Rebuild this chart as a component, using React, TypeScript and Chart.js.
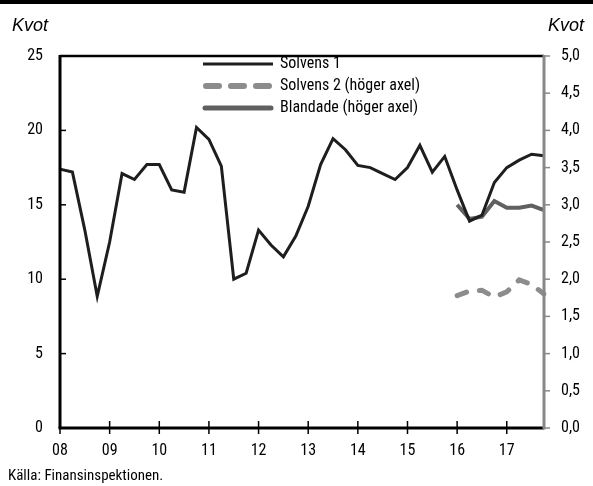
import React, { useEffect, useRef } from "react";
import { Chart, registerables } from "chart.js";

Chart.register(...registerables);

const quarters = [
  "2008K1", "2008K2", "2008K3", "2008K4", "2009K1", "2009K2", "2009K3", "2009K4",
  "2010K1", "2010K2", "2010K3", "2010K4", "2011K1", "2011K2", "2011K3", "2011K4",
  "2012K1", "2012K2", "2012K3", "2012K4", "2013K1", "2013K2", "2013K3", "2013K4",
  "2014K1", "2014K2", "2014K3", "2014K4", "2015K1", "2015K2", "2015K3", "2015K4",
  "2016K1", "2016K2", "2016K3", "2016K4", "2017K1", "2017K2", "2017K3", "2017K4",
];

const yearLabels = ["08", "09", "10", "11", "12", "13", "14", "15", "16", "17"];

const solvens1 = [
  17.4, 17.2, 13.3, 8.85, 12.5, 17.1, 16.7, 17.7,
  17.7, 16.0, 15.85, 20.2, 19.4, 17.6, 10.0, 10.4,
  13.3, 12.3, 11.5, 12.9, 14.9, 17.7, 19.45, 18.7,
  17.65, 17.5, 17.1, 16.7, 17.5, 19.0, 17.2, 18.25,
  16.0, 13.9, 14.3, 16.5, 17.5, 18.0, 18.4, 18.3,
];

const solvens2 = [
  null, null, null, null, null, null, null, null,
  null, null, null, null, null, null, null, null,
  null, null, null, null, null, null, null, null,
  null, null, null, null, null, null, null, null,
  1.78, 1.84, 1.85, 1.76, 1.83, 1.99, 1.93, 1.8,
];

const blandade = [
  null, null, null, null, null, null, null, null,
  null, null, null, null, null, null, null, null,
  null, null, null, null, null, null, null, null,
  null, null, null, null, null, null, null, null,
  3.0, 2.81, 2.84, 3.05, 2.96, 2.96, 2.99, 2.93,
];

const leftTicks = [0, 5, 10, 15, 20, 25];
const rightTicks = [0, 0.5, 1, 1.5, 2, 2.5, 3, 3.5, 4, 4.5, 5];

const NARROW = '"Roboto Condensed", "DejaVu Sans Condensed", sans-serif';
const COL_S1 = "#1e1e1e";
const COL_S2 = "#8c8c8c";
const COL_BL = "#606060";
const COL_RAXIS = "#888888";

const decor = {
  id: "decor",
  afterDraw(chart: any) {
    const { ctx, chartArea: a, scales } = chart;
    const y = scales.y;
    const y1 = scales.y1;
    const x = scales.x;
    ctx.save();

    // top black bar
    ctx.fillStyle = "#000";
    ctx.fillRect(0, 0, 593, 4);

    // legend
    ctx.lineCap = "butt";
    ctx.strokeStyle = COL_S1;
    ctx.lineWidth = 3;
    ctx.beginPath();
    ctx.moveTo(203, 64);
    ctx.lineTo(273, 64);
    ctx.stroke();

    ctx.strokeStyle = COL_S2;
    ctx.lineWidth = 6;
    ctx.lineCap = "round";
    ctx.setLineDash([13, 12]);
    ctx.beginPath();
    ctx.moveTo(206, 86);
    ctx.lineTo(270, 86);
    ctx.stroke();
    ctx.setLineDash([]);

    ctx.strokeStyle = COL_BL;
    ctx.lineWidth = 5;
    ctx.lineCap = "round";
    ctx.beginPath();
    ctx.moveTo(205, 108);
    ctx.lineTo(271, 108);
    ctx.stroke();
    ctx.lineCap = "butt";

    ctx.fillStyle = "#000";
    ctx.font = "16px " + NARROW;
    ctx.textAlign = "left";
    ctx.textBaseline = "middle";
    ctx.fillText("Solvens 1", 280, 64);
    ctx.fillText("Solvens 2 (höger axel)", 280, 86);
    ctx.fillText("Blandade (höger axel)", 280, 108);

    // frame lines
    ctx.strokeStyle = "#000";
    ctx.lineWidth = 2.5;
    ctx.beginPath();
    ctx.moveTo(a.left, a.top);
    ctx.lineTo(a.right, a.top);
    ctx.stroke();

    ctx.lineWidth = 3;
    ctx.beginPath();
    ctx.moveTo(a.left, a.top - 1);
    ctx.lineTo(a.left, a.bottom);
    ctx.stroke();

    ctx.beginPath();
    ctx.moveTo(a.left - 1.5, a.bottom);
    ctx.lineTo(a.right, a.bottom);
    ctx.stroke();

    ctx.strokeStyle = COL_RAXIS;
    ctx.beginPath();
    ctx.moveTo(a.right, a.top - 1);
    ctx.lineTo(a.right, a.bottom + 1.5);
    ctx.stroke();

    // ticks
    ctx.lineWidth = 1.5;
    ctx.strokeStyle = "#000";
    leftTicks.forEach((v) => {
      const py = y.getPixelForValue(v);
      ctx.beginPath();
      ctx.moveTo(a.left, py);
      ctx.lineTo(a.left + 6, py);
      ctx.stroke();
    });
    quarters.forEach((q, i) => {
      if (i % 4 !== 0) return;
      const px = x.getPixelForValue(i);
      ctx.beginPath();
      ctx.moveTo(px, a.bottom - 7);
      ctx.lineTo(px, a.bottom + 6);
      ctx.stroke();
    });
    ctx.strokeStyle = COL_RAXIS;
    rightTicks.forEach((v) => {
      const py = y1.getPixelForValue(v);
      ctx.beginPath();
      ctx.moveTo(a.right, py);
      ctx.lineTo(a.right + 6, py);
      ctx.stroke();
    });

    // axis unit labels
    ctx.fillStyle = "#000";
    ctx.font = 'italic 18px "Liberation Sans", "DejaVu Sans", sans-serif';
    ctx.textBaseline = "alphabetic";
    ctx.textAlign = "left";
    ctx.fillText("Kvot", 12, 31);
    ctx.textAlign = "right";
    ctx.fillText("Kvot", 584, 31);

    // source
    ctx.font = "15px " + NARROW;
    ctx.textAlign = "left";
    ctx.fillText("Källa: Finansinspektionen.", 8, 480);

    ctx.restore();
  },
};

export default function App() {
  const ref = useRef<HTMLCanvasElement | null>(null);

  useEffect(() => {
    if (!ref.current) return;
    const tickFont = { family: NARROW, size: 16 };
    const chart = new Chart(ref.current, {
      type: "line",
      data: {
        labels: quarters,
        datasets: [
          {
            label: "Solvens 1",
            data: solvens1,
            yAxisID: "y",
            borderColor: COL_S1,
            borderWidth: 3,
            pointRadius: 0,
            tension: 0,
            fill: false,
          },
          {
            label: "Solvens 2 (höger axel)",
            data: solvens2 as any,
            yAxisID: "y1",
            borderColor: COL_S2,
            borderWidth: 5,
            borderDash: [10, 13],
            borderCapStyle: "round",
            pointRadius: 0,
            tension: 0,
            fill: false,
          },
          {
            label: "Blandade (höger axel)",
            data: blandade as any,
            yAxisID: "y1",
            borderColor: COL_BL,
            borderWidth: 4,
            pointRadius: 0,
            tension: 0,
            fill: false,
          },
        ],
      },
      options: {
        responsive: false,
        animation: false,
        devicePixelRatio: 1,
        layout: { padding: { top: 56, left: 0, right: 0, bottom: 0 } },
        plugins: {
          legend: { display: false },
          tooltip: { enabled: false },
          title: { display: false },
        },
        scales: {
          x: {
            type: "category",
            grid: { display: false, drawTicks: false },
            border: { display: false },
            ticks: {
              autoSkip: false,
              maxRotation: 0,
              minRotation: 0,
              padding: 13,
              color: "#000",
              font: tickFont,
              callback: (_v: any, i: number) => (i % 4 === 0 ? yearLabels[i / 4] : ""),
            },
            afterFit: (s: any) => {
              s.height = 58;
            },
          },
          y: {
            position: "left",
            min: 0,
            max: 25,
            grid: { display: false, drawTicks: false },
            border: { display: false },
            ticks: { stepSize: 5, padding: 17, color: "#000", font: tickFont },
            afterFit: (s: any) => {
              s.width = 60;
            },
          },
          y1: {
            position: "right",
            min: 0,
            max: 5,
            grid: { display: false, drawTicks: false },
            border: { display: false },
            ticks: {
              stepSize: 0.5,
              padding: 17,
              color: "#000",
              font: tickFont,
              callback: (v: any) => Number(v).toFixed(1).replace(".", ","),
            },
            afterFit: (s: any) => {
              s.width = 49;
            },
          },
        },
      } as any,
      plugins: [decor],
    });
    return () => chart.destroy();
  }, []);

  return (
    <div style={{ position: "fixed", left: 0, top: 0, width: 593, height: 486, background: "#fff" }}>
      <canvas ref={ref} width={593} height={486} style={{ display: "block", width: 593, height: 486 }} />
    </div>
  );
}
